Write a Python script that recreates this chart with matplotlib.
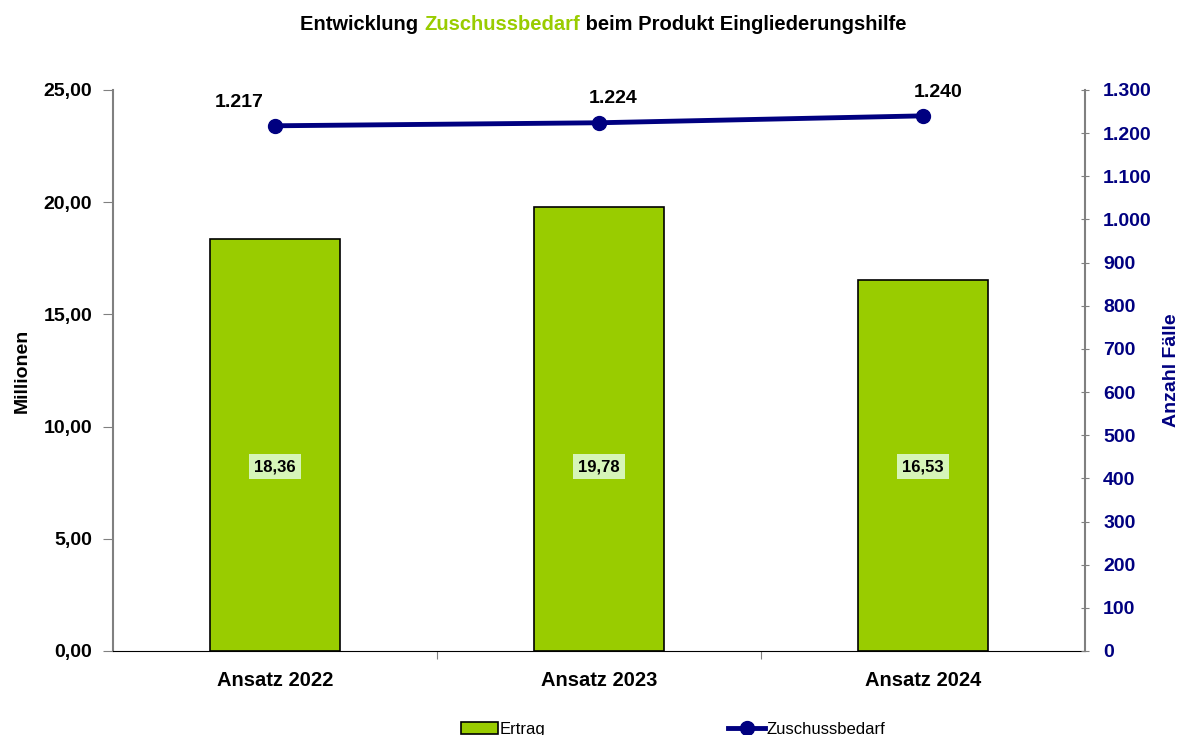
import matplotlib.pyplot as plt
import numpy as np
from matplotlib.offsetbox import TextArea, HPacker, AnnotationBbox
from matplotlib.ticker import FuncFormatter, MultipleLocator

plt.rcParams['font.family'] = ['Liberation Sans', 'DejaVu Sans']

# data
categories = ["Ansatz 2022", "Ansatz 2023", "Ansatz 2024"]
ertrag = [18.36, 19.78, 16.53]          # Millionen
faelle = [1217, 1224, 1240]             # Anzahl Fälle (Zuschussbedarf)

green = '#99CC00'
navy = '#000080'

fig = plt.figure(figsize=(11.81, 7.35), dpi=100)
ax = fig.add_axes([0.0957, 0.1143, 0.8230, 0.7633])
ax2 = ax.twinx()

x = np.arange(len(categories))
ax.bar(x, ertrag, width=0.4, color=green, edgecolor='black', linewidth=1.2,
       label='Ertrag', zorder=2)
ax.set_xlim(-0.5, 2.5)
ax.set_ylim(0, 25)
ax.yaxis.set_major_locator(MultipleLocator(5))
ax.yaxis.set_major_formatter(FuncFormatter(lambda v, p: f"{v:.2f}".replace('.', ',')))

# value labels in the bars
for xi, v in zip(x, ertrag):
    ax.text(xi, 8.2, f"{v:.2f}".replace('.', ','), ha='center', va='center',
            fontsize=12, fontweight='bold', zorder=3,
            bbox=dict(boxstyle='square,pad=0.3', fc='#d6f5b8', ec='none'))

# line on the secondary axis
ax2.plot(x, faelle, color=navy, linewidth=3.5, marker='o', markersize=10,
         label='Zuschussbedarf', zorder=4)
ax2.set_ylim(0, 1300)
ax2.yaxis.set_major_locator(MultipleLocator(100))
ax2.yaxis.set_major_formatter(FuncFormatter(lambda v, p: f"{int(v):,}".replace(',', '.')))
for xi, v, dx in zip(x, faelle, [-26, 10, 11]):
    ax2.annotate(f"{v:,}".replace(',', '.'), (xi, v), xytext=(dx, 11),
                 textcoords='offset points', ha='center', va='bottom',
                 fontsize=14, fontweight='bold')

# axes styling
ax.set_xticks([0.5, 1.5])
ax.set_xticklabels([])
ax.tick_params(axis='x', length=6, color='#808080')
for xi, c in zip(x, categories):
    ax.text(xi, -0.035, c, transform=ax.get_xaxis_transform(), ha='center', va='top',
            fontsize=14.5, fontweight='bold')
ax.tick_params(axis='y', length=7, color='#808080', labelsize=14, pad=8)
for lbl in ax.get_yticklabels():
    lbl.set_fontweight('bold')
ax2.tick_params(axis='y', length=6, direction='inout', color='#808080',
                labelsize=14, labelcolor=navy, pad=10)
for lbl in ax2.get_yticklabels():
    lbl.set_fontweight('bold')

for a in (ax, ax2):
    a.spines['top'].set_visible(False)
ax.spines['left'].set_color('#808080')
ax.spines['left'].set_linewidth(1.5)
ax.spines['right'].set_visible(False)
ax2.spines['left'].set_visible(False)
ax2.spines['bottom'].set_visible(False)
ax2.spines['right'].set_color('#808080')
ax2.spines['right'].set_linewidth(1.5)
ax.spines['bottom'].set_color('black')

ax.set_ylabel('Millionen', fontsize=14, fontweight='bold', labelpad=9)
ax2.set_ylabel('Anzahl Fälle', fontsize=14, fontweight='bold', color=navy, labelpad=8)

# title with highlighted word
parts = [("Entwicklung ", 'black'), ("Zuschussbedarf", green),
         (" beim Produkt Eingliederungshilfe", 'black')]
boxes = [TextArea(t, textprops=dict(color=c, fontsize=14.5, fontweight='bold'))
         for t, c in parts]
title = AnnotationBbox(HPacker(children=boxes, align='baseline', pad=0, sep=0),
                       (0.511, 0.967), xycoords='figure fraction', frameon=False)
fig.add_artist(title)

# legend
h1, l1 = ax.get_legend_handles_labels()
h2, l2 = ax2.get_legend_handles_labels()
fig.legend(h1 + h2, l1 + l2, loc='center', bbox_to_anchor=(0.57, 0.008), ncol=2,
           frameon=False, fontsize=12, columnspacing=11, handlelength=2.2,
           handletextpad=0.1)

fig.savefig('out.png', dpi=100)
